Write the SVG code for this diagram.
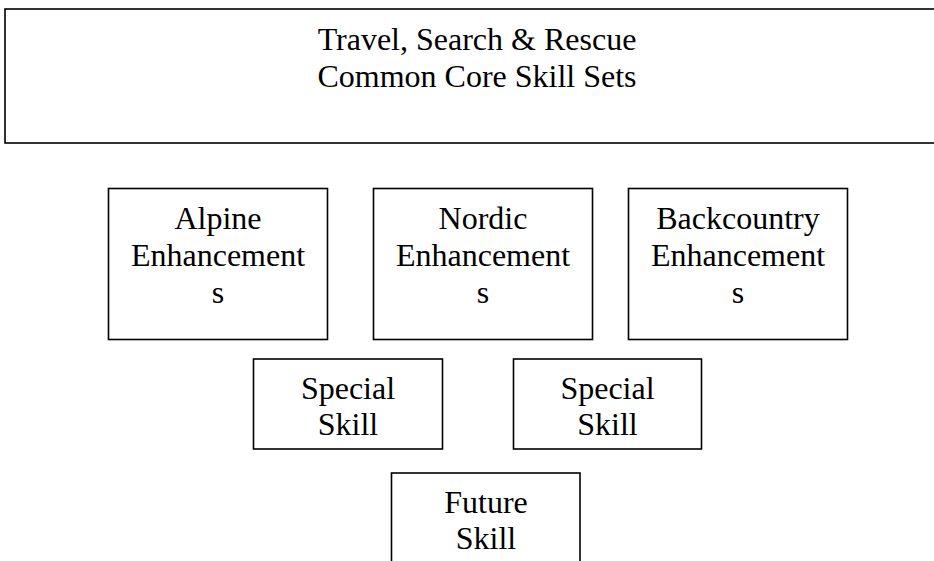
<svg xmlns="http://www.w3.org/2000/svg" width="934" height="561" viewBox="0 0 934 561">
<style>
rect{fill:#fff;stroke:#000;stroke-width:1.6}
text{font-family:"Liberation Serif","Times New Roman",serif;font-size:32px;fill:#000;text-anchor:middle}
</style>
<rect x="0" y="0" width="934" height="561" style="stroke:none"/>
<g id="core">
<rect x="5" y="9" width="950" height="134"/>
<text x="477" y="50">Travel, Search &amp; Rescue</text>
<text x="477" y="87">Common Core Skill Sets</text>
</g>
<g id="alpine">
<rect x="108.5" y="188.5" width="219" height="151"/>
<text x="218" y="229">Alpine</text>
<text x="218" y="266">Enhancement</text>
<text x="218" y="303">s</text>
</g>
<g id="nordic">
<rect x="373.5" y="188.5" width="219" height="151"/>
<text x="483" y="229">Nordic</text>
<text x="483" y="266">Enhancement</text>
<text x="483" y="303">s</text>
</g>
<g id="backcountry">
<rect x="628.5" y="188.5" width="219" height="151"/>
<text x="738" y="229">Backcountry</text>
<text x="738" y="266">Enhancement</text>
<text x="738" y="303">s</text>
</g>
<g id="special1">
<rect x="253.5" y="359" width="189" height="90"/>
<text x="348" y="399">Special</text>
<text x="348" y="435">Skill</text>
</g>
<g id="special2">
<rect x="513.5" y="359" width="188" height="90"/>
<text x="607.5" y="399">Special</text>
<text x="607.5" y="435">Skill</text>
</g>
<g id="future">
<rect x="391.5" y="473" width="188.5" height="100"/>
<text x="486" y="513">Future</text>
<text x="486" y="549">Skill</text>
</g>
<g id="connectors"></g>
</svg>
